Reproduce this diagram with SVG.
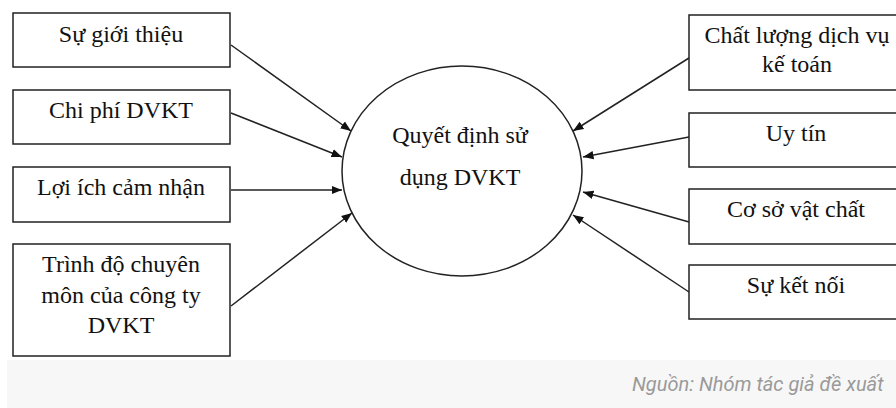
<svg xmlns="http://www.w3.org/2000/svg" width="896" height="408" viewBox="0 0 896 408">
<style>
.box{fill:#fff;stroke:#222;stroke-width:1.5}
.lbl{font-family:'Liberation Serif','Times New Roman',serif;font-size:24px;fill:#111;text-anchor:middle}
.c{stroke:#222;stroke-width:1.5;fill:none;marker-end:url(#ah)}
.src{font-family:Roboto,sans-serif;font-size:20px;font-style:italic;fill:#9a9a9a}
</style>
<defs>
<marker id="ah" viewBox="0 0 10 10" refX="10" refY="5" markerWidth="7" markerHeight="7" markerUnits="strokeWidth" orient="auto">
<path d="M0,1 L10,5 L0,9 Z" fill="#111"/>
</marker>
</defs>
<rect x="0" y="0" width="896" height="408" fill="#fff"/>
<rect x="7" y="360" width="889" height="48" fill="#f7f7f7"/>
<text class="src" x="632" y="391">Nguồn: Nhóm tác giả đề xuất</text>

<g id="connectors">
<line class="c" x1="231" y1="45" x2="351" y2="131"/>
<line class="c" x1="231" y1="113" x2="342" y2="157"/>
<line class="c" x1="231" y1="190" x2="342" y2="190"/>
<line class="c" x1="231" y1="306" x2="352" y2="213"/>
<line class="c" x1="689" y1="58" x2="573" y2="131"/>
<line class="c" x1="689" y1="137" x2="583" y2="157"/>
<line class="c" x1="689" y1="222" x2="583" y2="192"/>
<line class="c" x1="689" y1="292" x2="573" y2="215"/>
</g>

<g id="center">
<ellipse cx="462" cy="171" rx="120" ry="105" fill="#fff" stroke="#222" stroke-width="1.5"/>
<text class="lbl" x="460" y="143">Quyết định sử</text>
<text class="lbl" x="460" y="185">dụng DVKT</text>
</g>

<g id="n1"><rect class="box" x="13" y="13" width="217" height="54"/><text class="lbl" x="121" y="42">Sự giới thiệu</text></g>
<g id="n2"><rect class="box" x="13" y="90" width="217" height="54"/><text class="lbl" x="121" y="118">Chi phí DVKT</text></g>
<g id="n3"><rect class="box" x="13" y="167" width="217" height="55"/><text class="lbl" x="121" y="195">Lợi ích cảm nhận</text></g>
<g id="n4"><rect class="box" x="13" y="244" width="217" height="112"/>
<text class="lbl" x="121" y="272">Trình độ chuyên</text>
<text class="lbl" x="121" y="303">môn của công ty</text>
<text class="lbl" x="121" y="333">DVKT</text></g>

<g id="n5"><rect class="box" x="689" y="15" width="214" height="75"/>
<text class="lbl" x="797" y="43">Chất lượng dịch vụ</text>
<text class="lbl" x="797" y="72">kế toán</text></g>
<g id="n6"><rect class="box" x="689" y="113" width="214" height="54"/><text class="lbl" x="796" y="141">Uy tín</text></g>
<g id="n7"><rect class="box" x="689" y="189" width="214" height="55"/><text class="lbl" x="796" y="217">Cơ sở vật chất</text></g>
<g id="n8"><rect class="box" x="689" y="265" width="214" height="54"/><text class="lbl" x="796" y="293">Sự kết nối</text></g>
</svg>
